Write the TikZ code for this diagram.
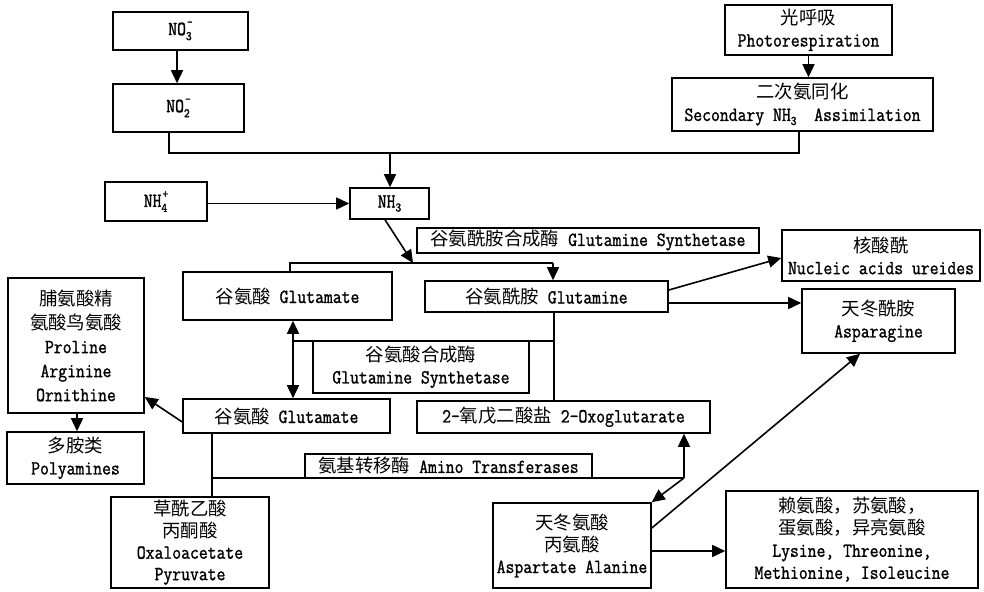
\documentclass[tikz,border=0pt]{standalone}
\usepackage{fontspec}
\setmainfont{Latin Modern Mono}[FakeStretch=0.86,FakeBold=1.2]
\newfontfamily\cjk{Noto Sans CJK SC}[Scale=0.92]
\usetikzlibrary{arrows.meta}
\newcommand\zh[1]{{\cjk #1}}
\newcommand\lowsub[1]{\raisebox{-4pt}{\fontsize{13}{13}\selectfont #1}}
\newcommand\subsup[2]{{\fontsize{13}{13}\selectfont\makebox[0pt][l]{\raisebox{-5pt}{#1}}\hspace{1pt}\raisebox{9pt}{#2}}}
\tikzset{
  x=1pt, y=-1pt,
  box/.style={draw, line width=1.6pt, fill=white, inner sep=0pt, align=center,
    font=\fontsize{20}{22}\selectfont},
  ln/.style={line width=1.6pt},
  arr/.style={ln, -{Triangle[length=13pt,width=12pt]}},
  darr/.style={ln, {Triangle[length=13pt,width=12pt]}-{Triangle[length=13pt,width=12pt]}}
}
\begin{document}
\begin{tikzpicture}
\useasboundingbox (0,0) rectangle (984,591);
% boxes
\node[box, minimum width=135pt, minimum height=38pt] (no3) at (180.5,31) {NO\subsup{3}{–}};
\node[box, minimum width=131pt, minimum height=48pt] (no2) at (178.5,108) {NO\subsup{2}{–}};
\node[box, minimum width=167pt, minimum height=50pt] (photo) at (808.5,30) {\zh{光呼吸}\\Photorespiration};
\node[box, minimum width=261pt, minimum height=53pt] (sec) at (802.5,104.5) {\zh{二次氨同化}\\Secondary NH\lowsub{3}~ Assimilation};
\node[box, minimum width=102pt, minimum height=39pt] (nh4) at (156,201.5) {NH\subsup{4}{+}};
\node[box, minimum width=79pt, minimum height=31pt] (nh3) at (389.5,203.5) {NH\lowsub{3}};
\node[box, minimum width=342pt, minimum height=25pt] (gs1) at (588,240.5) {\zh{谷氨酰胺合成酶} Glutamine Synthetase};
\node[box, minimum width=209pt, minimum height=48pt] (glu1) at (287.5,296) {\zh{谷氨酸} Glutamate};
\node[box, minimum width=243pt, minimum height=31pt] (gln) at (546.5,296.5) {\zh{谷氨酰胺} Glutamine};
\node[box, minimum width=198pt, minimum height=51pt] (nuc) at (881,255.5) {\zh{核酸酰}\\Nucleic acids ureides};
\node[box, minimum width=153pt, minimum height=64pt] (asn) at (878.5,321) {\zh{天冬酰胺}\\Asparagine};
\node[box, minimum width=136pt, minimum height=135pt, font=\fontsize{20}{24}\selectfont] (pro) at (76,345.5) {\zh{脯氨酸精}\\\zh{氨酸鸟氨酸}\\Proline\\Arginine\\Ornithine};
\node[box, minimum width=207pt, minimum height=34pt] (glu2) at (286.5,416) {\zh{谷氨酸} Glutamate};
\node[box, minimum width=293pt, minimum height=32pt] (oxo) at (563.5,417) {2-\zh{氧戊二酸盐} 2-Oxoglutarate};
\node[box, minimum width=137pt, minimum height=52pt] (poly) at (75.5,458) {\zh{多胺类}\\Polyamines};
\node[box, minimum width=158pt, minimum height=91pt, font=\fontsize{20}{21.5}\selectfont] (oaa) at (190,542.5) {\zh{草酰乙酸}\\\zh{丙酮酸}\\Oxaloacetate\\Pyruvate};
\node[box, minimum width=158pt, minimum height=85pt] (asp) at (572,545.5) {\zh{天冬氨酸}\\\zh{丙氨酸}\\Aspartate Alanine};
\node[box, minimum width=252pt, minimum height=97pt] (lys) at (852,539.5) {\zh{赖氨酸，苏氨酸，}\\\zh{蛋氨酸，异亮氨酸}\\Lysine, Threonine,\\Methionine, Isoleucine};
% junction coordinates
\coordinate (j1) at (169,153);
\coordinate (j2) at (799,153);
\coordinate (j3) at (390,153);
\coordinate (k) at (413,263);
\coordinate (ka) at (290,263);
\coordinate (kb) at (553,263);
\coordinate (m) at (293,341);
\coordinate (v) at (554,341);
\coordinate (n1) at (212,478);
\coordinate (n2) at (684,478);
% connectors
\draw[arr] ([xshift=-3.5pt]no3.south) -- ([xshift=-3.5pt]no3.south |- no2.north);
\draw[ln] (no2.south -| j1) -- (j1) -- (j2) -- (sec.south -| j2);
\draw[arr] (j3) -- (nh3.north -| j3);
\draw[arr] (photo.south) -- (photo.south |- sec.north);
\draw[arr] (nh4.east |- nh3.west) -- (nh3.west);
\draw[arr] ([xshift=-4.5pt]nh3.south) -- (k);
\draw[ln] (glu1.north -| ka) -- (ka) -- (kb);
\draw[arr] (kb) -- (gln.north -| kb);
\draw[darr] (glu1.south -| m) -- (glu2.north -| m);
\draw[ln] (m) -- (v);
\draw[ln] (gln.south -| v) -- (oxo.north -| v);
\draw[arr] (glu2.west |- 0,422) -- (pro.east |- 0,397);
\draw[arr] (pro.south -| 77,0) -- (poly.north -| 77,0);
\draw[ln] (glu2.south -| n1) -- (oaa.north -| n1);
\draw[ln] (n1) -- (n2);
\draw[arr] (n2) -- (oxo.south -| n2);
\draw[arr] (n2) -- (asp.north east);
\draw[arr] (gln.east |- 0,290) -- (nuc.west |- 0,258);
\draw[arr] (gln.east |- 0,303) -- (asn.west |- 0,303);
\draw[arr] (asp.east |- 0,528) -- (asn.south -| 860,0);
\draw[arr] (asp.east |- 0,551) -- (lys.west |- 0,551);
% label boxes that sit on the lines
\node[box, minimum width=287pt, minimum height=24pt] (amt) at (448.5,466) {\zh{氨基转移酶} Amino Transferases};
\node[box, minimum width=216pt, minimum height=52pt] (gs2) at (421,367) {\zh{谷氨酸合成酶}\\Glutamine Synthetase};
\end{tikzpicture}
\end{document}
